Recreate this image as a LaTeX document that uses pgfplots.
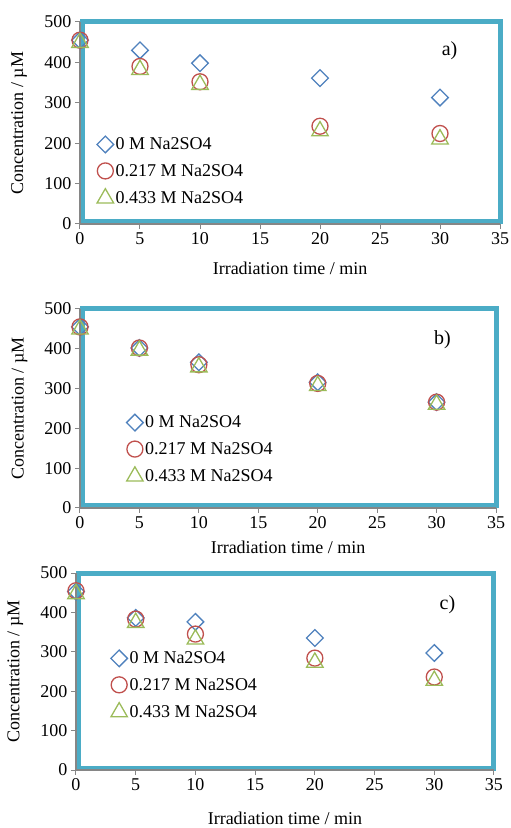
\documentclass[border=0pt]{standalone}
\usepackage{pgfplots}
\pgfplotsset{compat=1.18}
\usepackage{fontspec}
\setmainfont{Liberation Serif}
\definecolor{serblue}{RGB}{79,129,189}
\definecolor{serred}{RGB}{192,80,77}
\definecolor{sergreen}{RGB}{155,187,89}
\definecolor{frameteal}{RGB}{75,172,198}
\definecolor{axgray}{RGB}{134,134,134}

\pgfplotsset{
  panel/.style={
    scale only axis, anchor=south west,
    xmin=0, xmax=35, ymin=0, ymax=500,
    xtick={0,5,...,35}, ytick={0,100,...,500},
    axis lines*=left,
    axis line style={axgray, line width=1.5pt},
    tick style={axgray, line width=1pt},
    tick align=outside, major tick length=5pt,
    font=\fontsize{18}{21}\selectfont,
    /pgf/number format/assume math mode=true,
    xlabel={Irradiation time / min},
    ylabel={Concentration / µM},
    ylabel style={at={(axis description cs:-0.145,0.5)}, anchor=center},
    clip=false,
    legend cell align=left,
    legend style={draw=none, fill=none, row sep=9pt, inner sep=0pt,
      font=\fontsize{18}{21}\selectfont},
    legend image code/.code={\draw[##1] plot coordinates {(0pt,0pt)};},
  },
  s0/.style={only marks, mark=square, mark size=5.9pt,
    mark options={rotate=45, draw=serblue, line width=1.3pt, fill=none}},
  s1/.style={only marks, mark=o, mark size=8pt,
    mark options={draw=serred, line width=1.3pt, fill=none}},
  s2/.style={only marks, mark=triangle, mark size=9.5pt,
    mark options={draw=sergreen, line width=1.3pt, fill=none}},
}
\newcommand{\panelframe}{%
  \draw[frameteal, line width=5pt] ([shift={(2.5pt,2pt)}]rel axis cs:0,0) rectangle (rel axis cs:1,1);
  \draw[axgray, line width=1.5pt] (rel axis cs:0,1) -- (rel axis cs:0,0) -- (rel axis cs:1,0);
}

\begin{document}
\begin{tikzpicture}[x=1pt,y=1pt]
\path[use as bounding box] (0,0) rectangle (511,828);

% panel a
\begin{axis}[panel, at={(80pt,604pt)}, width=420pt, height=202pt,
  xlabel style={at={(axis description cs:0.5,-0.218)}, anchor=center},
  legend style={at={(axis cs:1.4,219)}, anchor=north west}]
\panelframe
\addplot[s0] coordinates {(0,455)(5,430)(10,398)(20,361)(30,313)};
\addplot[s1] coordinates {(0,455)(5,390)(10,352)(20,242)(30,224)};
\addplot[s2] coordinates {(0,449)(5,382)(10,345)(20,230)(30,210)};
\legend{0 M Na2SO4, 0.217 M Na2SO4, 0.433 M Na2SO4}
\node[font=\fontsize{20}{24}\selectfont] at (axis cs:30.8,430) {a)};
\end{axis}

% panel b
\begin{axis}[panel, at={(80pt,320pt)}, width=416pt, height=199pt,
  xlabel style={at={(axis description cs:0.5,-0.2)}, anchor=center},
  legend style={at={(axis cs:3.9,237)}, anchor=north west}]
\panelframe
\addplot[s0] coordinates {(0,455)(5,402)(10,366)(20,316)(30,266)};
\addplot[s1] coordinates {(0,455)(5,402)(10,360)(20,313)(30,266)};
\addplot[s2] coordinates {(0,449)(5,396)(10,354)(20,307)(30,260)};
\legend{0 M Na2SO4, 0.217 M Na2SO4, 0.433 M Na2SO4}
\node[font=\fontsize{20}{24}\selectfont] at (axis cs:30.5,422) {b)};
\end{axis}

% panel c
\begin{axis}[panel, at={(76pt,58pt)}, width=418pt, height=197pt,
  xlabel style={at={(axis description cs:0.5,-0.244)}, anchor=center},
  legend style={at={(axis cs:2.9,306)}, anchor=north west}]
\panelframe
\addplot[s0] coordinates {(0,453)(5,386)(10,376)(20,335)(30,297)};
\addplot[s1] coordinates {(0,455)(5,383)(10,345)(20,284)(30,236)};
\addplot[s2] coordinates {(0,447)(5,374)(10,332)(20,273)(30,227)};
\legend{0 M Na2SO4, 0.217 M Na2SO4, 0.433 M Na2SO4}
\node[font=\fontsize{20}{24}\selectfont] at (axis cs:31.1,419) {c)};
\end{axis}
\end{tikzpicture}
\end{document}
